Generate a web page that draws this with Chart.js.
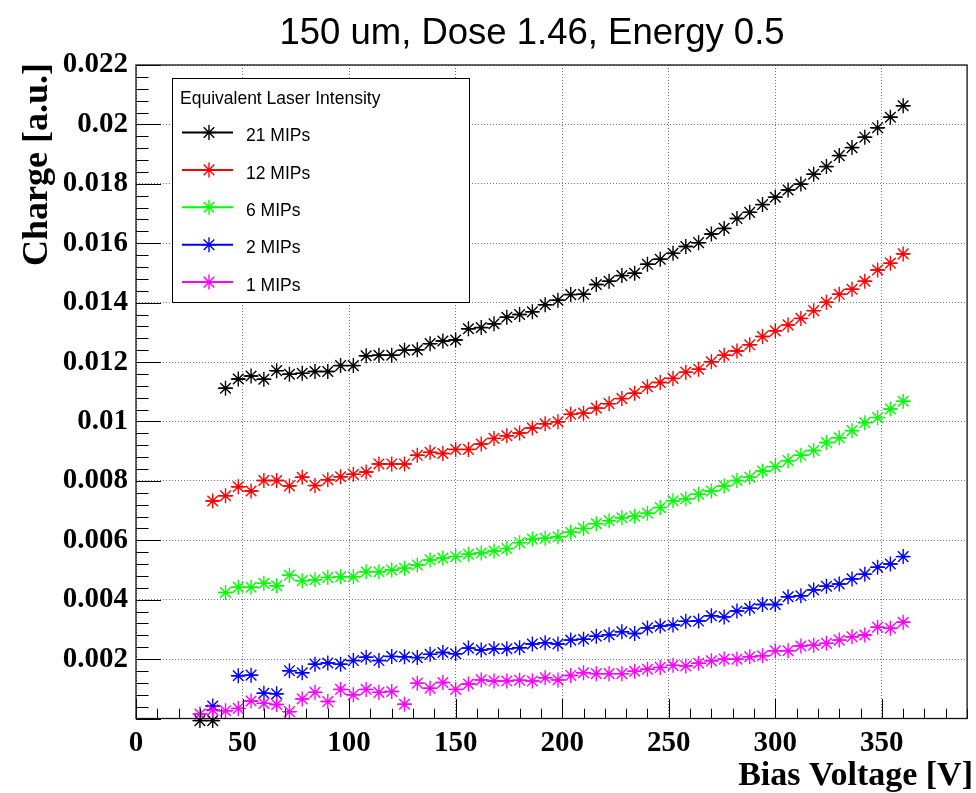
<!DOCTYPE html>
<html>
<head>
<meta charset="utf-8">
<title>150 um, Dose 1.46, Energy 0.5</title>
<script src="https://cdn.jsdelivr.net/npm/chart.js@4.4.0/dist/chart.umd.min.js"></script>
<style>
  html, body { margin: 0; padding: 0; background: #fff; }
</style>
</head>
<body>
<canvas id="chargeChart" width="976" height="793"></canvas>
<script>
// Bias voltage of every scan step [V]
const voltages = [30, 36, 42, 48, 54, 60, 66, 72, 78, 84, 90, 96, 102, 108, 114, 120, 126, 132, 138, 144,
  150, 156, 162, 168, 174, 180, 186, 192, 198, 204, 210, 216, 222, 228, 234, 240, 246, 252, 258, 264,
  270, 276, 282, 288, 294, 300, 306, 312, 318, 324, 330, 336, 342, 348, 354, 360];

// Charge [a.u.] per laser intensity, null where there is no point
const charge21 = [-0.00007, -0.00007, 0.01112, 0.01143, 0.01153, 0.01142, 0.01171, 0.01159, 0.01162, 0.01168,
  0.01168, 0.01188, 0.01188, 0.01221, 0.01223, 0.01223, 0.01240, 0.01241, 0.01262, 0.01271,
  0.01274, 0.01312, 0.01316, 0.01329, 0.01351, 0.01360, 0.01369, 0.01393, 0.01408, 0.01427,
  0.01428, 0.01461, 0.01472, 0.01491, 0.01499, 0.01529, 0.01546, 0.01566, 0.01589, 0.01602,
  0.01631, 0.01650, 0.01683, 0.01704, 0.01730, 0.01755, 0.01779, 0.01799, 0.01832, 0.01858,
  0.01895, 0.01922, 0.01957, 0.01989, 0.02024, 0.02063];
const charge12 = [null, 0.00732, 0.00750, 0.00780, 0.00766, 0.00801, 0.00801, 0.00783, 0.00812, 0.00784,
  0.00804, 0.00814, 0.00822, 0.00830, 0.00857, 0.00857, 0.00857, 0.00886, 0.00896, 0.00892,
  0.00906, 0.00906, 0.00924, 0.00943, 0.00952, 0.00961, 0.00978, 0.00992, 0.00999, 0.01024,
  0.01028, 0.01045, 0.01060, 0.01077, 0.01095, 0.01117, 0.01131, 0.01145, 0.01166, 0.01176,
  0.01201, 0.01223, 0.01237, 0.01258, 0.01286, 0.01305, 0.01325, 0.01347, 0.01373, 0.01401,
  0.01428, 0.01445, 0.01472, 0.01510, 0.01533, 0.01564];
const charge6 = [null, null, 0.00424, 0.00442, 0.00442, 0.00455, 0.00447, 0.00482, 0.00464, 0.00467,
  0.00475, 0.00477, 0.00477, 0.00494, 0.00494, 0.00500, 0.00506, 0.00517, 0.00534, 0.00540,
  0.00545, 0.00553, 0.00557, 0.00564, 0.00572, 0.00592, 0.00604, 0.00607, 0.00612, 0.00627,
  0.00640, 0.00656, 0.00666, 0.00676, 0.00681, 0.00691, 0.00710, 0.00733, 0.00740, 0.00755,
  0.00766, 0.00783, 0.00801, 0.00812, 0.00833, 0.00848, 0.00868, 0.00886, 0.00902, 0.00929,
  0.00945, 0.00969, 0.00996, 0.01013, 0.01042, 0.01068];
const charge2 = [null, 0.00042, null, 0.00144, 0.00146, 0.00085, 0.00083, 0.00161, 0.00154, 0.00183,
  0.00187, 0.00183, 0.00195, 0.00206, 0.00195, 0.00209, 0.00208, 0.00205, 0.00216, 0.00222,
  0.00218, 0.00237, 0.00231, 0.00235, 0.00235, 0.00238, 0.00251, 0.00255, 0.00251, 0.00264,
  0.00267, 0.00277, 0.00282, 0.00292, 0.00286, 0.00305, 0.00311, 0.00315, 0.00327, 0.00328,
  0.00346, 0.00342, 0.00362, 0.00371, 0.00384, 0.00384, 0.00410, 0.00413, 0.00433, 0.00445,
  0.00453, 0.00470, 0.00486, 0.00509, 0.00520, 0.00545];
const charge1 = [0.00015, 0.00029, 0.00026, 0.00034, 0.00059, 0.00051, 0.00047, 0.00023, 0.00066, 0.00088,
  0.00057, 0.00098, 0.00080, 0.00098, 0.00088, 0.00091, 0.00048, 0.00119, 0.00102, 0.00121,
  0.00098, 0.00116, 0.00130, 0.00126, 0.00126, 0.00129, 0.00126, 0.00137, 0.00130, 0.00145,
  0.00154, 0.00151, 0.00151, 0.00151, 0.00159, 0.00166, 0.00172, 0.00179, 0.00177, 0.00186,
  0.00194, 0.00200, 0.00200, 0.00208, 0.00211, 0.00228, 0.00228, 0.00244, 0.00247, 0.00253,
  0.00264, 0.00275, 0.00281, 0.00307, 0.00304, 0.00324];

const seriesLabels = ["21 MIPs", "12 MIPs", "6 MIPs", "2 MIPs", "1 MIPs"];
const seriesValues = [charge21, charge12, charge6, charge2, charge1];
const seriesColors = ["#000000", "#ff0000", "#00ff00", "#0000ff", "#ff00ff"];

const xTickValues = [0, 50, 100, 150, 200, 250, 300, 350];
const yTickValues = [0, 0.002, 0.004, 0.006, 0.008, 0.01, 0.012, 0.014, 0.016, 0.018, 0.02, 0.022];

const chartTitle = "150 um, Dose 1.46, Energy 0.5";
const xTitle = "Bias Voltage [V]";
const yTitle = "Charge [a.u.]";
const legendTitle = "Equivalent Laser Intensity";

const halfStep = 3; // horizontal error bar half width [V]

function toPoints(values) {
  const pts = [];
  values.forEach((v, i) => {
    if (v !== null) pts.push({ x: voltages[i], y: v });
  });
  return pts;
}

// ROOT-like decorations: error bars, inner ticks, frame, legend, titles
const rootStyle = {
  id: "rootStyle",
  beforeDatasetsDraw(chart) {
    const { ctx, scales } = chart;
    ctx.save();
    ctx.lineWidth = 1.5;
    chart.data.datasets.forEach((ds) => {
      ctx.strokeStyle = ds.borderColor;
      ctx.beginPath();
      ds.data.forEach((p) => {
        const y = scales.y.getPixelForValue(p.y);
        ctx.moveTo(scales.x.getPixelForValue(p.x - halfStep), y);
        ctx.lineTo(scales.x.getPixelForValue(p.x + halfStep), y);
      });
      ctx.stroke();
    });
    ctx.restore();
  },
  afterDatasetsDraw(chart) {
    const { ctx, scales, chartArea } = chart;
    const xs = scales.x, ys = scales.y;
    ctx.save();

    // small dot in the middle of each marker
    chart.data.datasets.forEach((ds) => {
      ctx.fillStyle = ds.borderColor;
      ds.data.forEach((p) => {
        ctx.fillRect(xs.getPixelForValue(p.x) - 1.5, ys.getPixelForValue(p.y) - 1.5, 3, 3);
      });
    });

    // inner ticks
    ctx.strokeStyle = "#000";
    ctx.lineWidth = 1;
    ctx.beginPath();
    for (let v = 0; v <= 390; v += 10) {
      const x = Math.round(xs.getPixelForValue(v)) + 0.5;
      const len = v % 50 === 0 ? 19.6 : 9.8;
      ctx.moveTo(x, chartArea.bottom);
      ctx.lineTo(x, chartArea.bottom - len);
    }
    for (let k = 0; k <= 55; k++) {
      const y = Math.round(ys.getPixelForValue(k * 0.0004)) + 0.5;
      const len = k % 5 === 0 ? 25 : 12.5;
      ctx.moveTo(chartArea.left, y);
      ctx.lineTo(chartArea.left + len, y);
    }
    ctx.stroke();

    // frame
    ctx.lineWidth = 1.3;
    ctx.strokeStyle = "#111";
    ctx.strokeRect(chartArea.left, chartArea.top, chartArea.right - chartArea.left, chartArea.bottom - chartArea.top);

    // legend box
    const lx = 172, ly = 78, lw = 297, lh = 224;
    ctx.fillStyle = "#fff";
    ctx.fillRect(lx, ly, lw, lh);
    ctx.lineWidth = 1;
    ctx.strokeStyle = "#000";
    ctx.strokeRect(lx + 0.5, ly + 0.5, lw, lh);
    ctx.fillStyle = "#000";
    ctx.font = '17.5px "Liberation Sans", Arial, sans-serif';
    ctx.textAlign = "left";
    ctx.textBaseline = "alphabetic";
    ctx.fillText(legendTitle, 180, 104);
    seriesLabels.forEach((label, i) => {
      const ry = 132.5 + i * 37.4;
      const col = seriesColors[i];
      ctx.strokeStyle = col;
      ctx.lineWidth = 2;
      ctx.beginPath();
      ctx.moveTo(182, ry);
      ctx.lineTo(233, ry);
      ctx.stroke();
      ctx.lineWidth = 1.4;
      Chart.helpers.drawPoint(ctx, { pointStyle: "star", radius: 7.5, rotation: 0, borderWidth: 1.4 }, 209, ry);
      ctx.fillStyle = "#000";
      ctx.fillText(label, 246, ry + 8.7);
    });

    // titles
    ctx.fillStyle = "#000";
    ctx.font = '36.5px "Liberation Sans", Arial, sans-serif';
    ctx.textAlign = "center";
    ctx.fillText(chartTitle, 532, 44);

    ctx.font = 'bold 34px "Liberation Serif", "Times New Roman", serif';
    ctx.textAlign = "right";
    ctx.fillText(xTitle, 973, 785);

    ctx.save();
    ctx.translate(47, 63);
    ctx.rotate(-Math.PI / 2);
    ctx.font = 'bold 36px "Liberation Serif", "Times New Roman", serif';
    ctx.textAlign = "right";
    ctx.fillText(yTitle, 0, 0);
    ctx.restore();

    ctx.restore();
  }
};

const tickFont = { family: '"Liberation Serif", "Times New Roman", serif', size: 29, weight: "bold" };

const datasets = seriesLabels.map((label, i) => ({
  label: label,
  data: toPoints(seriesValues[i]),
  borderColor: seriesColors[i],
  backgroundColor: seriesColors[i],
  pointStyle: "star",
  pointRadius: 7.5,
  pointBorderWidth: 1.4,
  showLine: false,
  clip: false,
  order: seriesLabels.length - i
}));

const ctx = document.getElementById("chargeChart").getContext("2d");

new Chart(ctx, {
  type: "scatter",
  data: { datasets: datasets },
  options: {
    responsive: false,
    animation: false,
    events: [],
    layout: { padding: { top: 65, right: 1, left: 0, bottom: 0 } },
    plugins: {
      legend: { display: false },
      title: { display: false },
      tooltip: { enabled: false }
    },
    scales: {
      x: {
        type: "linear",
        min: 0,
        max: 390,
        afterFit: (s) => { s.height = 74.5; },
        afterBuildTicks: (s) => { s.ticks = xTickValues.map((v) => ({ value: v })); },
        ticks: { font: tickFont, color: "#000", padding: 8, maxRotation: 0, autoSkip: false },
        grid: { color: "#777", lineWidth: 1, drawTicks: false },
        border: { display: false, dash: [1, 2] }
      },
      y: {
        type: "linear",
        min: 0,
        max: 0.022,
        afterFit: (s) => { s.width = 136; },
        afterBuildTicks: (s) => { s.ticks = yTickValues.map((v) => ({ value: v })); },
        ticks: {
          font: tickFont,
          color: "#000",
          padding: 8,
          autoSkip: false,
          callback: (v) => (v === 0 ? "" : String(+v.toFixed(3)))
        },
        grid: { color: "#777", lineWidth: 1, drawTicks: false },
        border: { display: false, dash: [1, 2] }
      }
    }
  },
  plugins: [rootStyle]
});
</script>
</body>
</html>
